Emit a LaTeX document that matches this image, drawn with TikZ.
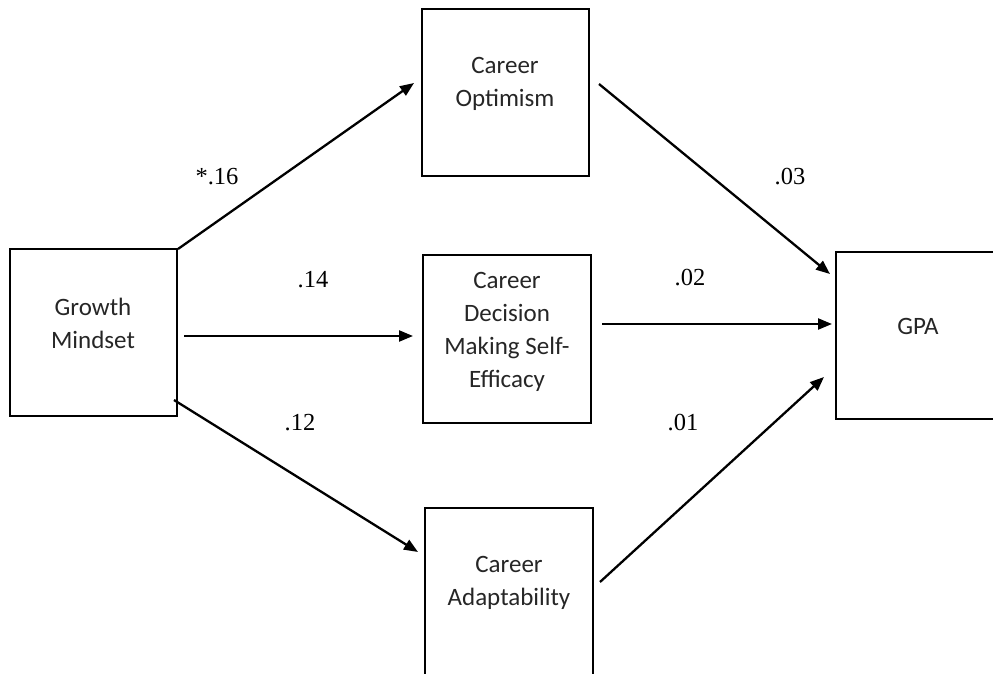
\documentclass[tikz,border=0pt]{standalone}
\usepackage{fontspec}
\setmainfont{Carlito}
\newfontfamily\numfont{Liberation Serif}
\usetikzlibrary{arrows.meta}
\tikzset{
  box/.style={draw, line width=2.7pt, rectangle, inner sep=0pt},
  boxtext/.style={align=center, font=\fontsize{25}{33}\selectfont, text=black!85, inner sep=0pt},
  coef/.style={font=\numfont\fontsize{24.5}{28}\selectfont, inner sep=0pt},
  path arrow/.style={line width=2.3pt, -{Triangle[length=14pt,width=11pt]}},
}
\begin{document}
\begin{tikzpicture}[x=1pt,y=-1pt]
\useasboundingbox (0,0) rectangle (993,674);
\clip (0,0) rectangle (993,674);
% boxes
\node[box, minimum width=167pt, minimum height=167pt] (gm) at (93.5,332.5) {};
\node[box, minimum width=167pt, minimum height=167pt] (co) at (505.5,92.5) {};
\node[box, minimum width=168pt, minimum height=168pt] (cd) at (507,339) {};
\node[box, minimum width=168pt, minimum height=168pt] (ca) at (509,592) {};
\node[box, minimum width=166pt, minimum height=167pt] (gpa) at (919,335.5) {};
% box texts
\node[boxtext] (gmt) at (93,323.5) {Growth\\Mindset};
\node[boxtext] (cot) at (505,83.5) {Career\\Optimism};
\node[boxtext] (cdt) at (507,331.5) {Career\\Decision\\Making Self-\\Efficacy};
\node[boxtext] (cat) at (509,583) {Career\\Adaptability};
\node[boxtext] (gpat) at (918,326) {GPA};
% arrow end points
\coordinate (a1s) at (178,249); \coordinate (a1e) at (414,83);
\coordinate (a2s) at (184,336); \coordinate (a2e) at (413,336);
\coordinate (a3s) at (174,400); \coordinate (a3e) at (418,552);
\coordinate (b1s) at (599,84);  \coordinate (b1e) at (830,274);
\coordinate (b2s) at (602,324); \coordinate (b2e) at (832,324);
\coordinate (b3s) at (600,582); \coordinate (b3e) at (824,377);
\draw[path arrow] (a1s) -- (a1e);
\draw[path arrow] (a2s) -- (a2e);
\draw[path arrow] (a3s) -- (a3e);
\draw[path arrow] (b1s) -- (b1e);
\draw[path arrow] (b2s) -- (b2e);
\draw[path arrow] (b3s) -- (b3e);
% coefficients
\node[coef] (c1) at (217,177) {*.16};
\node[coef] (c2) at (313,280) {.14};
\node[coef] (c3) at (300,423) {.12};
\node[coef] (c4) at (790,177) {.03};
\node[coef] (c5) at (690,278) {.02};
\node[coef] (c6) at (683,423) {.01};
\end{tikzpicture}
\end{document}
